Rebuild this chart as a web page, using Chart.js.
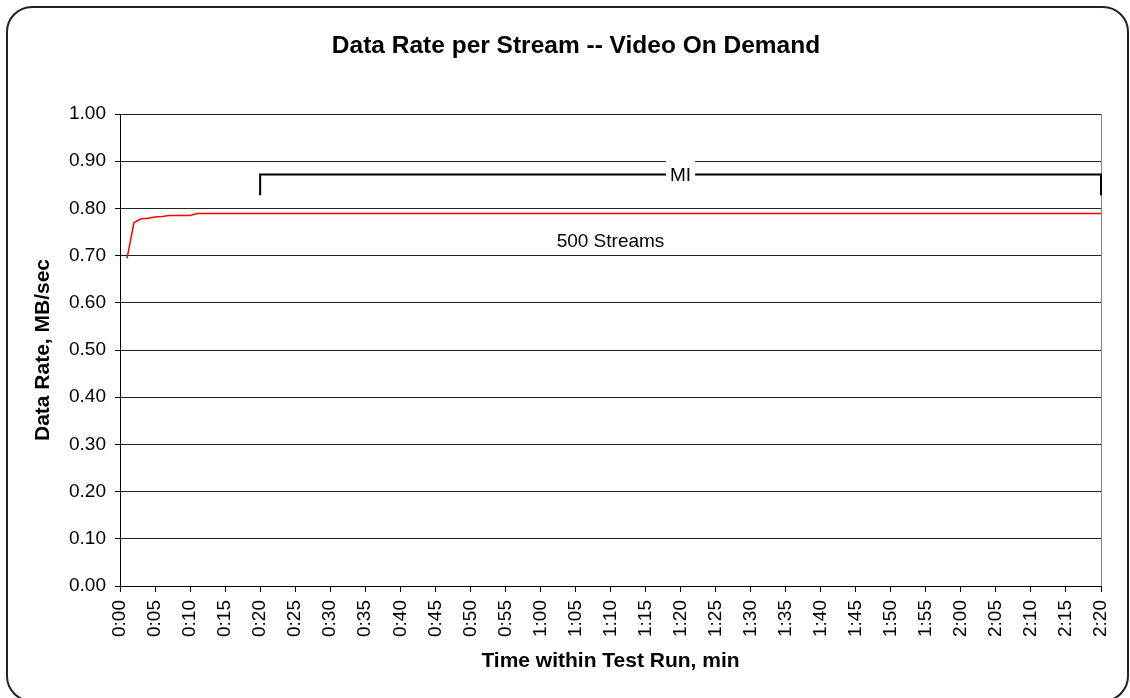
<!DOCTYPE html>
<html>
<head>
<meta charset="utf-8">
<script src="https://cdn.jsdelivr.net/npm/chart.js@4"></script>
<style>
  html, body { margin: 0; padding: 0; background: #fff; overflow: hidden; }
  #wrap { position: relative; width: 1130px; height: 698px; }
  #frame {
    position: absolute; left: 6px; top: 6px; width: 1123px; height: 696px;
    box-sizing: border-box; border: 2px solid #222; border-radius: 26px;
  }
  canvas { position: absolute; left: 0; top: 0; }
</style>
</head>
<body>
<div id="wrap">
  <div id="frame"></div>
  <canvas id="rateChart" width="1130" height="698"></canvas>
</div>
<script>
// time within the run, minutes
const minutes = [1, 2, 3, 4, 5, 6, 7, 8, 9, 10, 11, 20, 30, 40, 50, 60, 70, 80, 90, 100, 110, 120, 130, 140];
// data rate per stream, MB/sec (500 streams)
const rates = [0.694, 0.770, 0.778, 0.779, 0.782, 0.783, 0.785, 0.785, 0.785, 0.785, 0.789, 0.789,
  0.789, 0.789, 0.789, 0.789, 0.789, 0.789, 0.789, 0.789, 0.789, 0.789, 0.789, 0.789];

const chartTitle = 'Data Rate per Stream -- Video On Demand';
const seriesName = '500 Streams';
const labelPos = [70, 0.73];
// MI bracket: start/end minute, bar level, foot level
const miBracket = [20, 140, 0.872, 0.828];
const miLabel = 'MI';

const FONT = "'Liberation Sans', Arial, sans-serif";

function fmtTime(v) {
  const h = Math.floor(v / 60);
  const m = v % 60;
  return h + ':' + (m < 10 ? '0' : '') + m;
}

// title, MI bracket and the series label
const notesPlugin = {
  id: 'notes',
  afterDatasetsDraw(chart) {
    const { ctx, scales: { x, y } } = chart;
    ctx.save();
    ctx.fillStyle = '#000';
    ctx.textAlign = 'center';
    ctx.textBaseline = 'middle';
    ctx.font = 'bold 24.5px ' + FONT;
    ctx.fillText(chartTitle, 576, 46);

    const x0 = x.getPixelForValue(miBracket[0]);
    const x1 = x.getPixelForValue(miBracket[1]);
    const yBar = y.getPixelForValue(miBracket[2]);
    const yFoot = y.getPixelForValue(miBracket[3]);
    ctx.strokeStyle = '#000';
    ctx.lineWidth = 2;
    ctx.beginPath();
    ctx.moveTo(x0, yFoot);
    ctx.lineTo(x0, yBar);
    ctx.lineTo(x1, yBar);
    ctx.lineTo(x1, yFoot);
    ctx.stroke();

    ctx.font = '19px ' + FONT;
    const xm = (x0 + x1) / 2;
    const w = ctx.measureText(miLabel).width + 8;
    ctx.fillStyle = '#fff';
    ctx.fillRect(xm - w / 2, yBar - 17, w, 30);
    ctx.fillStyle = '#000';
    ctx.fillText(miLabel, xm, yBar + 1);

    ctx.fillText(seriesName, x.getPixelForValue(labelPos[0]), y.getPixelForValue(labelPos[1]));
    ctx.restore();
  }
};

function renderChart() {
  const ctx = document.getElementById('rateChart').getContext('2d');
  new Chart(ctx, {
    type: 'line',
    data: {
      datasets: [{
        label: seriesName,
        data: minutes.map((m, i) => ({ x: m, y: rates[i] })),
        borderColor: '#ff0000',
        borderWidth: 1.5,
        pointRadius: 0,
        tension: 0,
        fill: false
      }]
    },
    options: {
      responsive: false,
      animation: false,
      layout: { padding: { left: 0, right: 29, top: 114, bottom: 0 } },
      plugins: {
        legend: { display: false },
        tooltip: { enabled: false },
        title: { display: false }
      },
      scales: {
        x: {
          type: 'linear',
          min: 0,
          max: 140,
          afterFit(scale) {
            scale.height = 112;
            scale.paddingLeft = 0;
            scale.paddingRight = 0;
          },
          ticks: {
            stepSize: 5,
            autoSkip: false,
            minRotation: 90,
            maxRotation: 90,
            padding: 8,
            color: '#000',
            font: { family: FONT, size: 19 },
            callback: v => fmtTime(v)
          },
          grid: {
            drawOnChartArea: true,
            color: c => (c.tick && c.tick.value === 140 ? '#888' : 'rgba(0,0,0,0)'),
            tickColor: '#000',
            tickLength: 6
          },
          border: { display: true, color: '#000', width: 1 },
          title: {
            display: true,
            text: 'Time within Test Run, min',
            color: '#000',
            font: { family: FONT, size: 21, weight: 'bold' },
            padding: { top: 0, bottom: 24 }
          }
        },
        y: {
          min: 0,
          max: 1,
          afterFit(scale) { scale.width = 120; },
          ticks: {
            stepSize: 0.1,
            padding: 9,
            color: '#000',
            font: { family: FONT, size: 19 },
            callback: v => v.toFixed(2)
          },
          grid: { color: '#222', lineWidth: 1, tickLength: 5, tickColor: '#000' },
          border: { display: true, color: '#000', width: 1 },
          title: {
            display: true,
            text: 'Data Rate, MB/sec',
            color: '#000',
            font: { family: FONT, size: 21, weight: 'bold' },
            padding: { top: 31, bottom: 0 }
          }
        }
      }
    },
    plugins: [notesPlugin]
  });
}

renderChart();
</script>
</body>
</html>
